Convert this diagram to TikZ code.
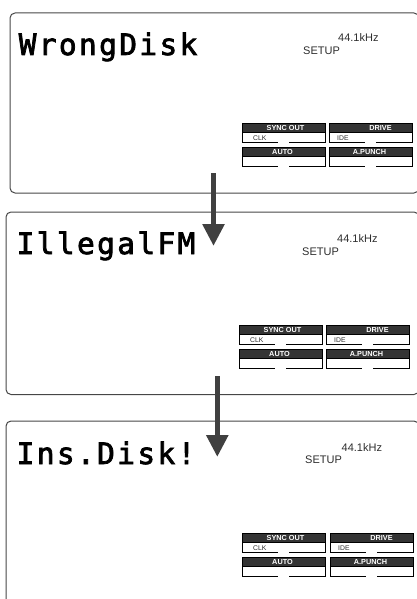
\documentclass[tikz,border=0pt]{standalone}
\usepackage{fontspec}
\usepackage{tikz}
\usetikzlibrary{arrows.meta,positioning,calc}
\setmainfont{Liberation Sans}
\newfontfamily\LcdFont{DejaVu Sans Mono}[LetterSpace=8,FakeBold=2.5]
\definecolor{PanelGray}{RGB}{70,70,70}
\definecolor{HeadGray}{RGB}{52,52,52}
\definecolor{ArrowGray}{RGB}{64,64,64}
\definecolor{TextGray}{RGB}{45,45,45}
\tikzset{
  screen/.style={draw=PanelGray, line width=1pt, rounded corners=5pt},
  lcdtext/.style={anchor=base west, inner sep=0pt, font=\LcdFont\fontsize{29.5}{30}\selectfont},
  ratetext/.style={anchor=base west, inner sep=0pt, text=TextGray, font=\fontsize{11}{12}\selectfont},
  headbar/.style={draw=black, fill=HeadGray, line width=0.6pt},
  headlabel/.style={text=white, inner sep=0pt, anchor=base, font=\bfseries\fontsize{7.3}{8}\selectfont},
  sublabel/.style={text=TextGray, inner sep=0pt, anchor=base west, font=\fontsize{6.8}{7}\selectfont},
  boxline/.style={draw=black, line width=0.7pt},
  flowarrow/.style={draw=ArrowGray, line width=5.5pt, -{Triangle[width=21pt,length=22pt]}},
  pics/indblock/.style n args={5}{code={
    \path[headbar] (0,0) rectangle (83,9);
    \node[headlabel] (-top) at (41.5+#4,7.2) {#1};
    \draw[boxline] (0,9) -- (0,19) -- (36,19) (47,19) -- (83,19) -- (83,9);
    \node[sublabel] (-sub) at (#5,17) {#3};
    \path[headbar] (0,24) rectangle (83,33);
    \node[headlabel] (-bottom) at (40.5,31.2) {#2};
    \draw[boxline] (0,33) -- (0,43) -- (36,43) (47,43) -- (83,43) -- (83,33);
  }}
}

\begin{document}
\begin{tikzpicture}[x=1pt,y=-1pt]
        \useasboundingbox (0,0) rectangle (417,599);
        \clip (0,0) rectangle (417,599);
        % screens
        \draw[screen] (10,13) rectangle (419,193);
        \draw[screen] (6,212) rectangle (419,394.5);
        \draw[screen] (6,421) rectangle (419,615);
        % messages
        \node[lcdtext] (msg1) at (18.5,55) {WrongDisk};
        \node[lcdtext] (msg2) at (16.5,254) {IllegalFM};
        \node[lcdtext] (msg3) at (16.5,464) {Ins.Disk!};
        \node[ratetext] (rate1) at (338,42) {44.1kHz};
        \node[ratetext] (mode1) at (303,54.5) {SETUP};
        \node[ratetext] (rate2) at (337,242) {44.1kHz};
        \node[ratetext] (mode2) at (302,255) {SETUP};
        \node[ratetext] (rate3) at (341.5,451) {44.1kHz};
        \node[ratetext] (mode3) at (305,463.5) {SETUP};
        % indicators
        \pic (sync1) at (242,123) {indblock={SYNC OUT}{AUTO}{CLK}{2}{11}};
        \pic (drive1) at (329,123) {indblock={DRIVE}{A.PUNCH}{IDE}{10}{8}};
        \pic (sync2) at (239,325) {indblock={SYNC OUT}{AUTO}{CLK}{2}{11}};
        \pic (drive2) at (326,325) {indblock={DRIVE}{A.PUNCH}{IDE}{10}{8}};
        \pic (sync3) at (242,533) {indblock={SYNC OUT}{AUTO}{CLK}{2}{11}};
        \pic (drive3) at (330,533) {indblock={DRIVE}{A.PUNCH}{IDE}{10}{8}};
        % arrows
        \coordinate (step1top) at (213.5,173);
        \coordinate (step1tip) at (213.5,246);
        \coordinate (step2top) at (217.3,376);
        \coordinate (step2tip) at (217.3,457);
        \draw[flowarrow] (step1top) -- (step1tip);
        \draw[flowarrow] (step2top) -- (step2tip);
      \end{tikzpicture}
\end{document}
